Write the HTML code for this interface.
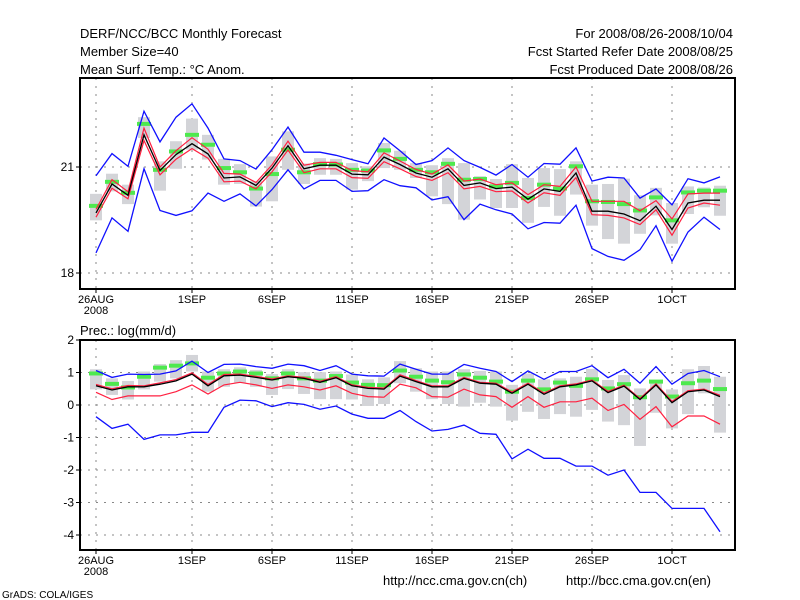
<!DOCTYPE html>
<html><head><meta charset="utf-8">
<style>
html,body{margin:0;padding:0;background:#fff;}
svg{display:block;font-family:"Liberation Sans",sans-serif;}
</style></head>
<body>
<svg id="chart" width="800" height="600" viewBox="0 0 800 600">
<rect x="0" y="0" width="800" height="600" fill="#fff"/>
<g font-size="13" fill="#000">
<text x="80" y="38">DERF/NCC/BCC Monthly Forecast</text>
<text x="80" y="56">Member Size=40</text>
<text x="80" y="74">Mean Surf. Temp.: °C Anom.</text>
<text x="733" y="38" text-anchor="end">For 2008/08/26-2008/10/04</text>
<text x="733" y="56" text-anchor="end">Fcst Started Refer Date 2008/08/25</text>
<text x="733" y="74" text-anchor="end">Fcst Produced Date 2008/08/26</text>
<text x="80" y="335">Prec.: log(mm/d)</text>
<text x="383" y="585">http://ncc.cma.gov.cn(ch)</text>
<text x="566" y="585">http://bcc.cma.gov.cn(en)</text>
<text x="2" y="598" font-size="10">GrADS: COLA/IGES</text>
</g>
<g id="top"></g>
<g id="bot"></g>
</svg>
<script>
// ---------- Temperature panel data ----------
const tBlueMax=[20.75,21.38,21.02,22.58,21.71,22.41,22.79,22.10,21.23,21.18,20.94,21.49,22.13,21.42,21.42,21.33,21.21,21.09,21.82,21.46,21.07,21.18,21.54,21.18,20.99,20.77,21.07,20.71,21.10,21.08,21.54,20.60,20.71,20.69,20.12,20.38,19.93,20.67,20.55,20.72];
const tBlueMin=[18.57,19.56,19.18,20.95,19.77,19.63,19.76,20.26,20.03,20.24,19.90,20.36,20.92,20.38,20.62,20.62,20.31,20.33,20.64,20.47,20.41,20.07,20.16,19.51,19.95,19.79,19.67,19.25,19.43,19.41,19.92,18.69,18.47,18.36,18.66,19.34,18.33,19.16,19.58,19.23];
const tMean=[19.70,20.52,20.20,21.91,20.90,21.35,21.66,21.37,20.69,20.72,20.48,20.97,21.60,20.95,21.05,21.05,20.80,20.78,21.28,21.07,20.83,20.71,20.95,20.48,20.55,20.39,20.43,20.09,20.38,20.31,20.83,19.75,19.75,19.67,19.48,19.89,19.23,19.98,20.06,20.06];
const tRedHi=[19.80,20.64,20.30,22.10,21.00,21.46,21.83,21.50,20.82,20.80,20.56,21.06,21.73,21.05,21.13,21.13,20.90,20.86,21.40,21.17,20.93,20.80,21.06,20.60,20.66,20.50,20.55,20.22,20.50,20.45,21.00,20.03,20.03,20.03,19.76,20.05,19.53,20.24,20.26,20.26];
const tRedLo=[19.58,20.40,20.10,21.75,20.78,21.22,21.52,21.25,20.58,20.60,20.38,20.86,21.48,20.84,20.95,20.95,20.70,20.68,21.15,20.95,20.73,20.62,20.84,20.38,20.45,20.30,20.32,19.98,20.27,20.20,20.70,19.65,19.63,19.56,19.37,19.79,19.07,19.84,19.98,19.92];
const tGreen=[19.90,20.58,20.27,22.22,20.92,21.44,21.91,21.63,20.97,20.85,20.39,20.80,21.49,20.85,21.08,21.07,20.92,20.90,21.47,21.23,20.92,20.85,21.09,20.64,20.66,20.45,20.55,20.12,20.50,20.39,21.02,20.03,20.01,19.95,19.77,20.14,19.49,20.28,20.33,20.33];
const tBarHi=[20.24,20.81,20.50,22.41,21.16,21.73,22.37,21.91,21.23,21.08,20.60,21.30,22.01,21.10,21.25,21.23,21.11,21.02,21.68,21.46,21.11,21.05,21.25,21.11,20.74,20.66,21.08,20.69,20.97,20.94,21.16,20.50,20.52,20.67,20.20,20.41,19.98,20.45,20.42,20.47];
const tBarLo=[19.49,20.31,19.95,21.82,20.33,20.95,21.49,21.21,20.50,20.52,19.88,20.03,20.92,20.52,20.78,20.78,20.36,20.60,20.97,20.92,20.69,20.17,19.95,19.51,20.08,19.84,19.84,19.42,19.87,19.62,20.22,19.34,18.96,18.83,19.11,19.63,18.83,19.67,19.86,19.62];
const tYTicks=[18,21];
// ---------- Precipitation panel data ----------
const pBlueMax=[1.06,0.85,0.95,0.94,0.95,1.05,1.35,1.00,1.25,1.26,1.18,1.13,1.26,1.21,1.06,1.21,0.95,0.90,0.89,1.26,1.10,0.95,0.95,1.25,1.13,1.03,0.72,1.05,0.79,1.03,1.03,1.21,0.84,1.10,0.67,1.18,0.64,0.97,1.06,0.87];
const pBlueMin=[-0.36,-0.72,-0.59,-1.06,-0.92,-0.92,-0.84,-0.84,-0.07,0.15,0.13,-0.05,0.07,0.02,-0.13,-0.03,-0.28,-0.41,-0.41,-0.17,-0.51,-0.80,-0.75,-0.62,-0.87,-0.90,-1.66,-1.36,-1.64,-1.64,-1.88,-1.88,-2.16,-2.00,-2.69,-2.69,-3.18,-3.18,-3.18,-3.90];
const pMean=[0.59,0.46,0.56,0.56,0.64,0.74,0.95,0.59,0.90,0.92,0.85,0.77,0.87,0.82,0.70,0.84,0.59,0.51,0.49,0.89,0.72,0.56,0.56,0.82,0.67,0.64,0.36,0.64,0.33,0.56,0.62,0.74,0.38,0.58,0.17,0.62,0.07,0.41,0.46,0.26];
const pRedHi=[0.63,0.50,0.60,0.59,0.68,0.78,0.99,0.63,0.94,0.95,0.88,0.80,0.90,0.85,0.73,0.87,0.62,0.54,0.52,0.93,0.75,0.59,0.59,0.85,0.70,0.67,0.40,0.67,0.37,0.59,0.65,0.77,0.42,0.61,0.20,0.65,0.11,0.44,0.49,0.30];
const pRedLo=[0.39,0.17,0.28,0.28,0.28,0.41,0.62,0.34,0.62,0.70,0.62,0.51,0.62,0.56,0.46,0.59,0.36,0.26,0.24,0.64,0.53,0.26,0.24,0.49,0.31,0.26,-0.07,0.26,-0.07,0.10,0.10,0.21,-0.17,0.02,-0.44,-0.05,-0.67,-0.34,-0.34,-0.59];
const pGreen=[0.97,0.65,0.54,0.87,1.15,1.21,1.28,0.84,0.97,1.03,0.97,0.82,0.97,0.82,0.75,0.89,0.69,0.62,0.61,1.06,0.87,0.75,0.70,0.94,0.84,0.72,0.41,0.75,0.48,0.69,0.59,0.79,0.51,0.64,0.24,0.72,0.26,0.67,0.75,0.49];
const pBarHi=[1.10,0.82,0.74,1.03,1.26,1.38,1.54,1.03,1.10,1.16,1.08,0.95,1.10,1.01,1.01,1.03,0.94,0.79,0.85,1.35,1.13,1.03,1.03,1.10,1.05,1.03,0.62,0.97,0.79,0.82,0.87,1.11,0.77,0.92,0.51,0.77,0.48,1.10,1.20,0.87];
const pBarLo=[0.48,0.31,0.17,0.48,0.72,0.82,1.03,0.41,0.56,0.69,0.56,0.31,0.49,0.34,0.18,0.18,0.17,-0.03,0.03,0.67,0.41,0.18,0.03,-0.05,0.07,-0.05,-0.48,-0.21,-0.43,-0.28,-0.36,-0.15,-0.51,-0.62,-1.26,-0.24,-0.72,-0.28,0.36,-0.85];
const pYTicks=[2,1,0,-1,-2,-3,-4];
// ---------- shared x axis ----------
const xTickDays=[0,6,11,16,21,26,31];
const xTickLabels=["26AUG","1SEP","6SEP","11SEP","16SEP","21SEP","26SEP","1OCT"];
const xTickLabelDays=[0,6,11,16,21,26,31,36];

const NS="http://www.w3.org/2000/svg";
function mk(tag,attrs,parent){const e=document.createElementNS(NS,tag);for(const k in attrs)e.setAttribute(k,attrs[k]);parent.appendChild(e);return e;}
const X0=80,X1=735;
function xs(d){return 96+d*16;}

function drawPanel(g,top,bottom,vmin,vmax,yTicks,d,prefix){
  const ys=v=>bottom-(v-vmin)/(vmax-vmin)*(bottom-top);
  // grid
  xTickLabelDays.forEach(dd=>{
    const x=xs(dd);
    const l=mk('line',{x1:x,x2:x,y1:top,y2:bottom,stroke:'#888','stroke-dasharray':'2,6','stroke-width':1},g);
    
    
    const t=mk('line',{x1:x,x2:x,y1:bottom,y2:bottom+4,stroke:'#000','stroke-width':1},g);
    
    
  });
  yTicks.forEach(v=>{
    const y=ys(v);
    const l=mk('line',{x1:X0,x2:X1,y1:y,y2:y,stroke:'#888','stroke-dasharray':'2,6','stroke-width':1},g);
    
    
    const t=mk('line',{x1:X0-4,x2:X0,y1:y,y2:y,stroke:'#000','stroke-width':1},g);
    
    
    const tx=mk('text',{x:X0-6,y:y+4,'text-anchor':'end','font-size':12},g);
    tx.textContent=String(v);
    
    
  });
  xTickLabels.forEach((s,i)=>{
    const x=xs(xTickLabelDays[i]);
    const tx=mk('text',{x:x,y:bottom+14,'text-anchor':'middle','font-size':11},g);
    tx.textContent=s;
    
    
  });
  const yr=mk('text',{x:xs(0),y:bottom+25,'text-anchor':'middle','font-size':11},g);
  yr.textContent='2008';
  
  
  // bars
  d.barHi.forEach((h,i)=>{
    const y1=ys(h),y2=ys(d.barLo[i]);
    const r=mk('rect',{x:xs(i)-6,y:y1,width:12,height:Math.max(1,y2-y1),fill:'#d3d4d8'},g);
    
    
  });
  d.green.forEach((v,i)=>{
    const r=mk('rect',{x:xs(i)-7,y:ys(v)-2,width:14,height:4,fill:'#4ee94e'},g);
    
    
  });
  function line(arr,color,name,w){
    const p=arr.map((v,i)=>xs(i).toFixed(1)+','+ys(v).toFixed(1)).join(' ');
    const pl=mk('polyline',{points:p,fill:'none',stroke:color,'stroke-width':w},g);
    
    
  }
  line(d.blueMax,'#1010ff',prefix+'-max-line',1.3);
  line(d.blueMin,'#1010ff',prefix+'-min-line',1.3);
  line(d.redHi,'#ff2040',prefix+'-upper-line',1.2);
  line(d.redLo,'#ff2040',prefix+'-lower-line',1.2);
  line(d.mean,'#000',prefix+'-mean-line',1.3);
  const f=mk('rect',{x:X0,y:top,width:X1-X0,height:bottom-top,fill:'none',stroke:'#000','stroke-width':2},g);
  
  
}
// top: 21 at y=167, 18 at y=273
const tpx=106/3;
drawPanel(document.getElementById('top'),78,289,18-(289-273)/tpx,21+(167-78)/tpx,tYTicks,
  {blueMax:tBlueMax,blueMin:tBlueMin,mean:tMean,redHi:tRedHi,redLo:tRedLo,green:tGreen,barHi:tBarHi,barLo:tBarLo},'temp');
// bottom: 2 at y=340, -4 at y=535
const ppx=195/6;
drawPanel(document.getElementById('bot'),340,550,-4-(550-535)/ppx,2,pYTicks,
  {blueMax:pBlueMax,blueMin:pBlueMin,mean:pMean,redHi:pRedHi,redLo:pRedLo,green:pGreen,barHi:pBarHi,barLo:pBarLo},'prec');
</script>
</body></html>
